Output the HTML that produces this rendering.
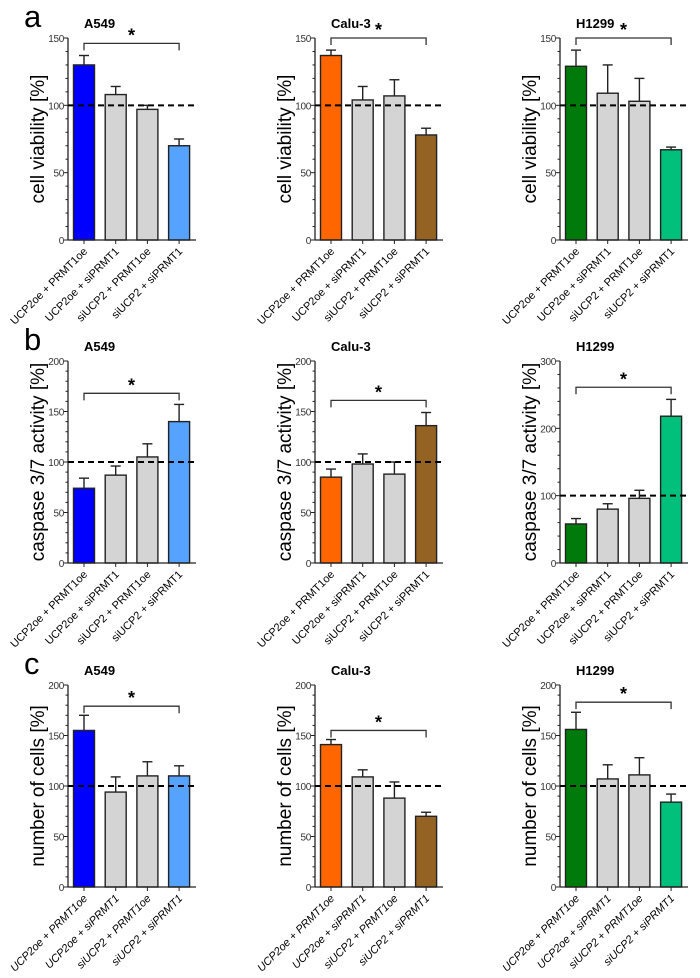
<!DOCTYPE html>
<html><head><meta charset="utf-8">
<style>
html,body{margin:0;padding:0;background:#fff;}
svg{display:block;font-family:"Liberation Sans",Arial,sans-serif;}
</style></head>
<body>
<svg id="fig" width="700" height="978" viewBox="0 0 700 978" xmlns="http://www.w3.org/2000/svg"></svg>
<script>
const categories = ["UCP2oe + PRMT1oe","UCP2oe + siPRMT1","siUCP2 + PRMT1oe","siUCP2 + siPRMT1"];
const cellLines = ["A549","Calu-3","H1299"];
const rowLetters = ["a","b","c"];
const rowTitles = ["cell viability [%]","caspase 3/7 activity [%]","number of cells [%]"];
const yMaxA = [150,150,150];
const yMaxB = [200,200,300];
const yMaxC = [200,200,200];
const majorA = [50,50,50], majorB=[50,50,100], majorC=[50,50,50];
const minorA = [10,10,10], minorB=[10,10,20], minorC=[10,10,10];
const viabilityMean = [[130,108,97,70],[137,104,107,78],[129,109,103,67]];
const viabilityErr  = [[7,6,3,5],[4,10,12,5],[12,21,17,2]];
const caspaseMean = [[74,87,105,140],[85,98,88,136],[58,80,96,218]];
const caspaseErr  = [[10,9,13,17],[8,10,12,13],[8,8,12,25]];
const cellsMean = [[155,94,110,110],[141,109,88,70],[156,107,111,84]];
const cellsErr  = [[15,15,14,10],[5,7,16,4],[17,14,17,8]];
const bracketLevel = [[146,150,150],[168,161,261],[179,155,183]];
const reference = 100;

const colors = [["#0000ff","#d4d4d4","#d4d4d4","#55a2ff"],["#ff6600","#d4d4d4","#d4d4d4","#946222"],["#007a0a","#d4d4d4","#d4d4d4","#00c07c"]];
const rowsMean=[viabilityMean,caspaseMean,cellsMean], rowsErr=[viabilityErr,caspaseErr,cellsErr];
const rowsMax=[yMaxA,yMaxB,yMaxC], rowsMajor=[majorA,majorB,majorC], rowsMinor=[minorA,minorB,minorC];
const colX=[68,315,560], rowTop=[38,361,685], plotH=202, axisLen=128;
const NS="http://www.w3.org/2000/svg";
const svg=document.getElementById('fig');
function mk(tag,attrs,parent,text){const e=document.createElementNS(NS,tag);for(const k in attrs)e.setAttribute(k,attrs[k]);if(text!==undefined)e.textContent=text;(parent||svg).appendChild(e);return e;}

for(let r=0;r<3;r++){
  const letter=mk('text',{x:24,y:rowTop[r]-11,'font-size':31},svg,rowLetters[r]);
  
  
  for(let c=0;c<3;c++){
    const g=mk('g',{});
    
    
    const x0=colX[c], y0=rowTop[r]+plotH, max=rowsMax[r][c];
    const ys=v=>y0-v/max*plotH;
    const xs=i=>x0+16+i*31.7;
    const t=mk('text',{x:x0+16,y:rowTop[r]-10,'font-size':13,'font-weight':'bold'},g,cellLines[c]);
    
    
    const off = (max>=100 && max<1000) ? 24 : 22;
    const yl=mk('text',{x:0,y:0,'font-size':19,'text-anchor':'middle',transform:`translate(${x0-off},${rowTop[r]+plotH/2}) rotate(-90)`},g,rowTitles[r]);
    
    
    const ya=mk('line',{x1:x0,y1:rowTop[r],x2:x0,y2:y0,stroke:'#222','stroke-width':1.3},g);
    
    
    for(let v=0;v<=max;v+=rowsMinor[r][c]){
      const major=v%rowsMajor[r][c]===0;
      mk('line',{x1:x0-(major?4:2.5),y1:ys(v),x2:x0,y2:ys(v),stroke:'#222','stroke-width':1},g);
      if(major){const tl=mk('text',{x:x0-4,y:ys(v)+4,'font-size':10,'letter-spacing':'-0.3','text-anchor':'end',fill:'#333'},g,String(v));
        
        }
    }
    const means=rowsMean[r][c], errs=rowsErr[r][c];
    for(let i=0;i<4;i++){
      const cx=xs(i), top=ys(means[i]);
      const b=mk('rect',{x:cx-10.5,y:top,width:21,height:y0-top,fill:colors[c][i],stroke:'#222','stroke-width':1.4},g);
      
      
      const et=ys(means[i]+errs[i]);
      mk('line',{x1:cx,y1:top,x2:cx,y2:et,stroke:'#222','stroke-width':1.4},g);
      mk('line',{x1:cx-5,y1:et,x2:cx+5,y2:et,stroke:'#222','stroke-width':1.4},g);
      mk('line',{x1:cx,y1:y0,x2:cx,y2:y0+4,stroke:'#222','stroke-width':1},g);
      const xl=mk('text',{x:0,y:0,'font-size':11,'text-anchor':'end','font-style':r===2?'italic':'normal',transform:`translate(${cx+4},${y0+12}) rotate(-45)`},g,categories[i]);
      
      
    }
    const xa=mk('line',{x1:x0,y1:y0,x2:x0+axisLen,y2:y0,stroke:'#222','stroke-width':1.3},g);
    
    
    const ref=mk('line',{x1:x0,y1:ys(reference),x2:x0+axisLen,y2:ys(reference),stroke:'#000','stroke-width':2,'stroke-dasharray':'6,4'},g);
    
    
    const by=ys(bracketLevel[r][c]);
    const br=mk('path',{d:`M${xs(0)},${by+7}V${by}H${xs(3)}V${by+7}`,fill:'none',stroke:'#333','stroke-width':1.3},g);
    
    
    const st=mk('text',{x:(xs(0)+xs(3))/2,y:by-2,'font-size':18,'font-weight':'bold','text-anchor':'middle'},g,'*');
    
    
  }
}
</script>
</body></html>
